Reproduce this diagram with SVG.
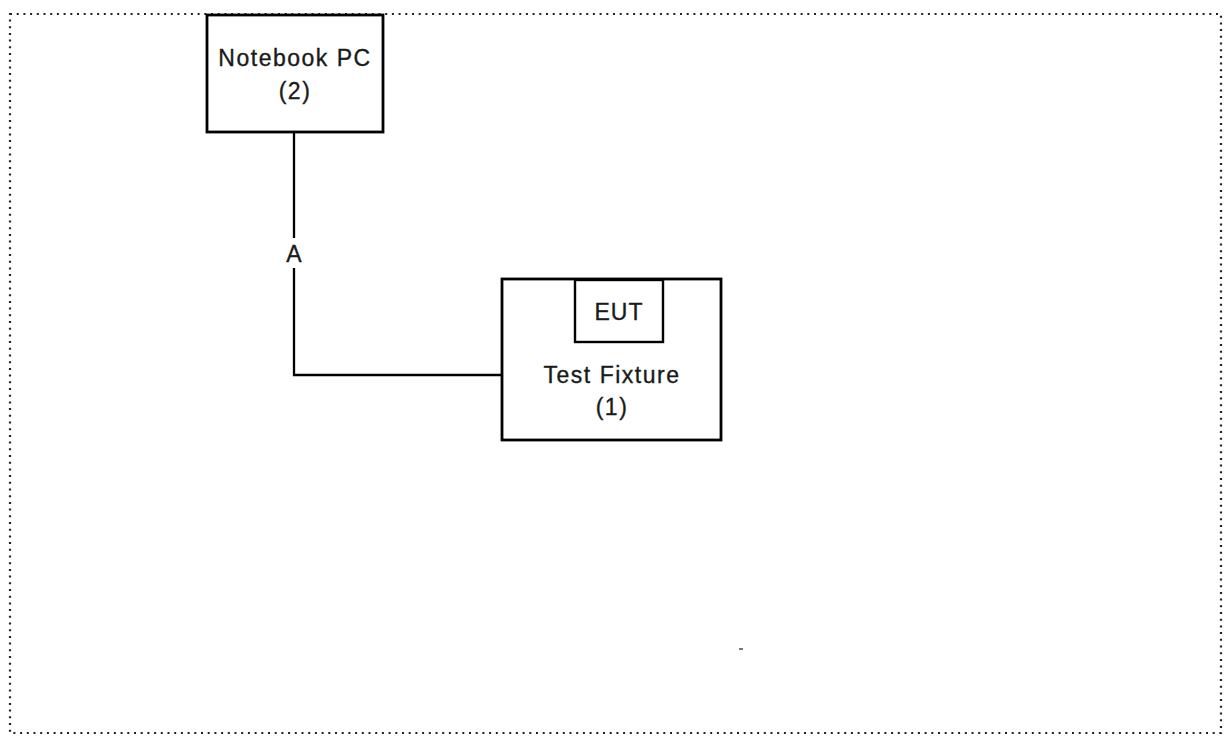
<svg xmlns="http://www.w3.org/2000/svg" width="1224" height="736" viewBox="0 0 1224 736">
<style>
.frame{fill:none;stroke:#222;stroke-width:2.2;stroke-dasharray:2 4.7}
.box{fill:#fff;stroke:#000;stroke-width:2.8}
.wire{fill:none;stroke:#000;stroke-width:2.3}
.t{font-family:"Liberation Sans",Arial,sans-serif;font-size:23px;fill:#1a1a1a;stroke:#1a1a1a;stroke-width:0.35;text-anchor:middle;letter-spacing:1.5px}
</style>
<rect class="frame" x="10" y="14" width="1211" height="719"/>
<g id="connectors">
<path class="wire" d="M294 132 V238"/>
<path class="wire" d="M294 268 V375 H502"/>
<text class="t" x="294" y="262" style="letter-spacing:0">A</text>
</g>
<g id="notebook">
<rect class="box" x="207" y="15" width="176" height="117"/>
<text class="t" x="295" y="66">Notebook PC</text>
<text class="t" x="295" y="99">(2)</text>
</g>
<g id="fixture">
<rect class="box" x="502" y="279" width="219" height="161"/>
<text class="t" x="612" y="383">Test Fixture</text>
<text class="t" x="612" y="415">(1)</text>
</g>
<g id="eut">
<rect class="box" x="575" y="280" width="88" height="62" style="stroke-width:2.4"/>
<text class="t" x="619" y="320" style="letter-spacing:1px">EUT</text>
</g>
<rect x="739" y="648" width="4" height="2" fill="#777"/>
</svg>
